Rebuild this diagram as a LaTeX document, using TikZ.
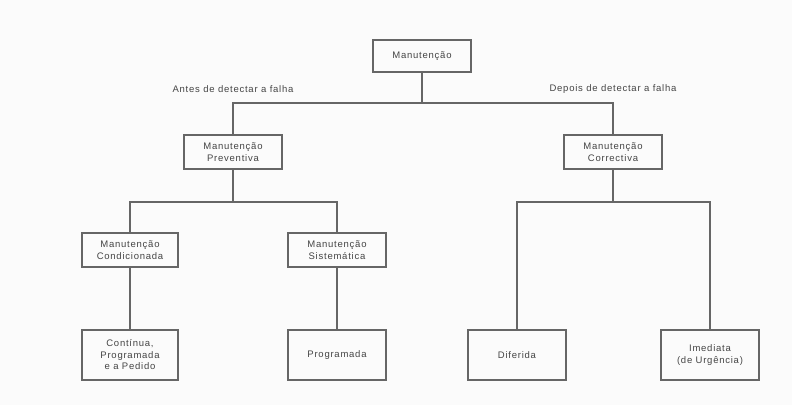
\documentclass[tikz,border=0pt]{standalone}
\usepackage{fontspec}
\setmainfont{Liberation Sans}[LetterSpace=8]
\definecolor{ink}{HTML}{666666}
\definecolor{txt}{HTML}{444444}
\definecolor{paper}{HTML}{FBFBFB}
\begin{document}
\begin{tikzpicture}[x=1pt,y=-1pt,
  box/.style={draw=ink,line width=1.5pt,fill=paper,text=txt,align=center,
    inner sep=0pt,minimum width=98pt,minimum height=34pt,
    font=\fontsize{9.5}{11.5}\selectfont},
  tall/.style={box,minimum height=50pt},
  lbl/.style={text=txt,font=\fontsize{9.5}{11.5}\selectfont,inner sep=0pt},
  link/.style={draw=ink,line width=1.5pt}]
\fill[paper] (0,0) rectangle (792,405);
\useasboundingbox (0,0) rectangle (792,405);
\node[box,minimum height=32pt] (M) at (422,56) {Manutenção};
\node[box] (P) at (233,152) {Manutenção\\Preventiva};
\node[box] (C) at (613,152) {Manutenção\\Correctiva};
\node[box,minimum width=96pt] (Cd) at (130,250) {Manutenção\\Condicionada};
\node[box] (S) at (337,250) {Manutenção\\Sistemática};
\node[tall,minimum width=96pt] (Ct) at (130,355) {Contínua,\\Programada\\e a Pedido};
\node[tall] (Pg) at (337,355) {Programada};
\node[tall] (D) at (517,355) {Diferida};
\node[tall] (I) at (710,355) {Imediata\\(de Urgência)};
\node[lbl] (La) at (233,89) {Antes de detectar a falha};
\node[lbl] (Ld) at (613,89) {Depois de detectar a falha};
\coordinate (j1) at (422,103);
\coordinate (j2) at (233,202);
\coordinate (j3) at (613,202);
\draw[link] (M.south) -- (j1);
\draw[link] (P.north) |- (j1) -| (C.north);
\draw[link] (P.south) -- (j2);
\draw[link] (Cd.north) |- (j2) -| (S.north);
\draw[link] (C.south) -- (j3);
\draw[link] (D.north) |- (j3) -| (I.north);
\draw[link] (Cd.south) -- (Ct.north);
\draw[link] (S.south) -- (Pg.north);
\end{tikzpicture}
\end{document}
